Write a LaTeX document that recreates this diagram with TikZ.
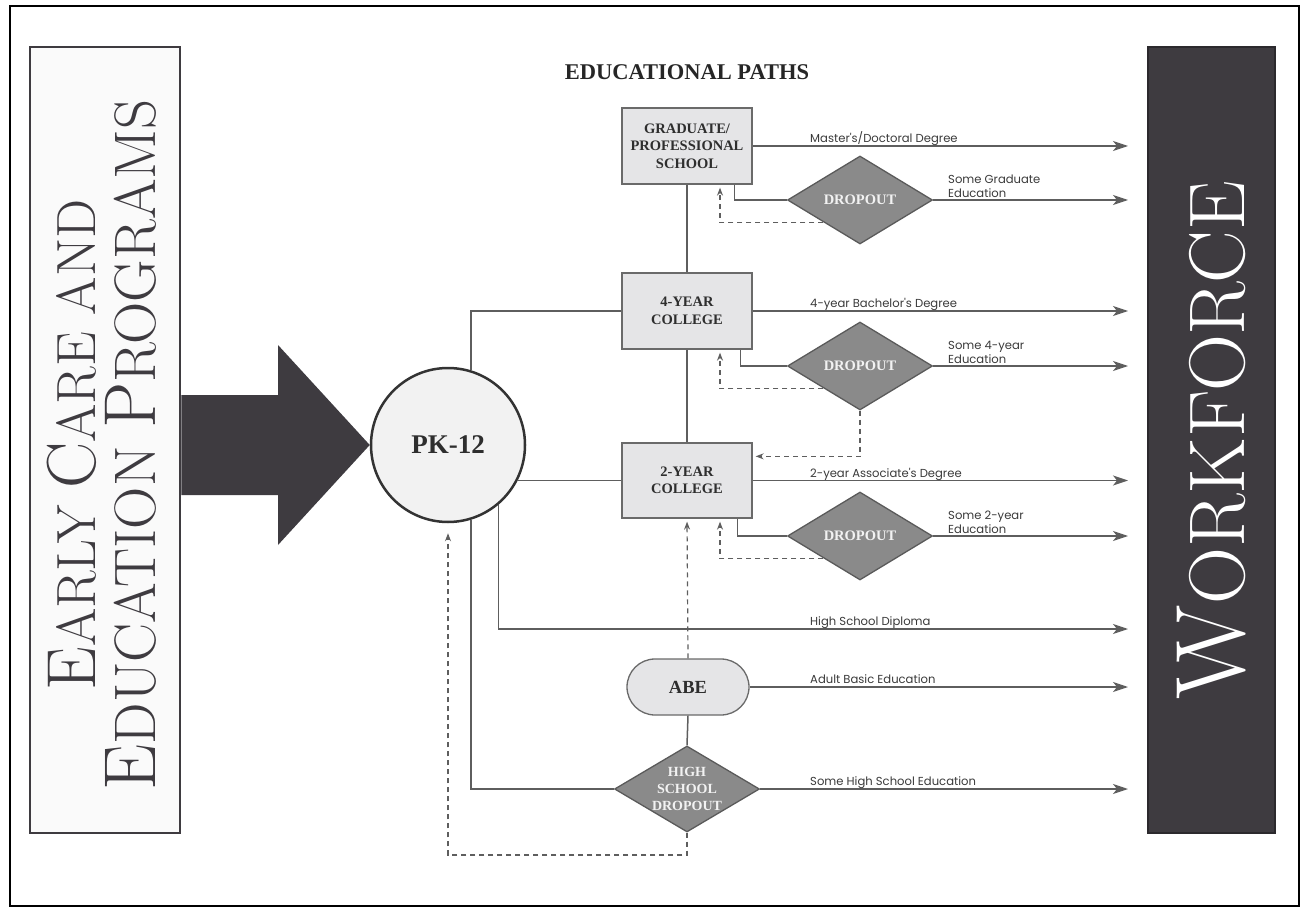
\documentclass[tikz,border=0pt]{standalone}
\usepackage{fontspec}
\usetikzlibrary{arrows.meta,calc,shapes.geometric,shapes.misc}
\newfontfamily\boxfont{Liberation Serif}
\newfontfamily\labfont{Poppins}
\definecolor{linec}{HTML}{5E5E5E}
\definecolor{boxfill}{HTML}{E5E5E7}
\definecolor{boxline}{HTML}{6A6A6A}
\definecolor{diafill}{HTML}{8A8A8A}
\definecolor{dialine}{HTML}{5A5A5A}
\definecolor{darkc}{HTML}{3E3B40}
\definecolor{labc}{HTML}{3A3A3A}
\definecolor{boxtext}{HTML}{2E2E2E}
\tikzset{
  conn/.style={draw=linec, line width=1.5pt},
  arr/.style={conn, -{Stealth[length=15pt,width=10pt,inset=4pt]}},
  dline/.style={draw=linec, line width=1.2pt, dash pattern=on 5pt off 4pt,
     -{Stealth[length=8pt,width=6pt]}, shorten >=3pt},
  pathbox/.style={rectangle, draw=boxline, fill=boxfill, line width=1.3pt,
     minimum width=130pt, minimum height=76pt, inner sep=0pt, align=center,
     text=boxtext, font=\boxfont\bfseries\fontsize{14.5}{17.5}\selectfont},
  dia/.style={diamond, draw=dialine, fill=diafill, line width=1.3pt,
     minimum width=145pt, minimum height=88pt, inner sep=0pt, aspect=1.65,
     align=center, text=white!95!black,
     font=\boxfont\bfseries\fontsize{14.5}{17}\selectfont},
  lab/.style={font=\labfont\fontsize{11.6}{14}\selectfont, text=labc,
     inner sep=0pt, align=left},
}
\begin{document}
\begin{tikzpicture}[x=1pt,y=-1pt]
\useasboundingbox (0,0) rectangle (1301,909);
\draw[black, line width=1.3pt] (10,6) rectangle (1299,906);

% side boxes
\node[rectangle, draw=darkc, fill=white!98!black, line width=2.5pt,
      minimum width=150pt, minimum height=786pt] (ecep) at (105,440) {};
\node[rotate=90, inner sep=0pt, text=darkc] (ecep1) at (71.5,445)
  {\resizebox{491pt}{!}{\fontsize{64}{64}\selectfont E\fontsize{51}{64}\selectfont ARLY \fontsize{64}{64}\selectfont C\fontsize{51}{64}\selectfont ARE AND}};
\node[rotate=90, inner sep=0pt, text=darkc] (ecep2) at (130.5,445)
  {\resizebox{691pt}{!}{\fontsize{64}{64}\selectfont E\fontsize{51}{64}\selectfont DUCATION \fontsize{64}{64}\selectfont P\fontsize{51}{64}\selectfont ROGRAMS}};

\node[rectangle, rotate=90, draw=darkc!70!black, fill=darkc, line width=2pt,
      minimum width=786pt, minimum height=127pt, inner sep=0pt, text=white] (wf) at (1211.5,440)
  {\resizebox{518pt}{!}{\fontsize{80}{80}\selectfont W\fontsize{64}{80}\selectfont ORKFORCE}};

% PK-12
\node[circle, draw=black!80, fill=black!5, line width=2.5pt, minimum size=154pt,
      inner sep=0pt, text=boxtext, font=\boxfont\bfseries\fontsize{27}{30}\selectfont] (pk) at (448,445) {PK-12};

% big arrow
\fill[darkc] (ecep.east |- 0,395) -- (278,395) -- (278,345) -- (pk.west)
   -- (278,545) -- (278,495) -- (ecep.east |- 0,495) -- cycle;

% title
\node[font=\boxfont\bfseries\fontsize{22.5}{26}\selectfont, text=black!85] (title) at (687,72) {EDUCATIONAL PATHS};

% nodes
\node[pathbox] (grad) at (687,146) {GRADUATE/\\PROFESSIONAL\\SCHOOL};
\node[pathbox] (c4) at (687,311) {4-YEAR\\COLLEGE};
\node[pathbox, minimum height=75pt] (c2) at (687,480.5) {2-YEAR\\COLLEGE};
\node[dia] (d1) at (860,200) {DROPOUT};
\node[dia] (d2) at (860,366) {DROPOUT};
\node[dia] (d3) at (860,536) {DROPOUT};
\node[rounded rectangle, draw=boxline, fill=boxfill, line width=1.3pt,
      minimum width=122pt, minimum height=56pt, inner sep=0pt, text=boxtext,
      font=\boxfont\bfseries\fontsize{18.5}{20}\selectfont] (abe) at (688,687) {ABE};
\node[dia, minimum height=86pt, font=\boxfont\bfseries\fontsize{14}{17}\selectfont] (hsd) at (687,789) {HIGH\\SCHOOL\\DROPOUT};

% arrow end coordinates at the workforce side
\coordinate (e1) at (1128,146);
\coordinate (e2) at (1128,200);
\coordinate (e3) at (1128,311);
\coordinate (e4) at (1128,366);
\coordinate (e5) at (1128,480.5);
\coordinate (e6) at (1128,536);
\coordinate (e7) at (1128,629);
\coordinate (e8) at (1128,687);
\coordinate (e9) at (1128,789);
\coordinate (loop) at (687,855);

% solid connectors
\draw[arr] (grad.east) -- (e1);
\draw[conn] ($(grad.south east)+(-18,0)$) |- (d1.west);
\draw[arr] (d1.east) -- (e2);
\draw[conn] (grad.south) -- (c4.north);
\draw[conn] (pk.73.4) |- (c4.west);
\draw[arr] (c4.east) -- (e3);
\draw[conn] ($(c4.south east)+(-12,0)$) |- (d2.west);
\draw[arr] (d2.east) -- (e4);
\draw[conn] (c4.south) -- (c2.north);
\draw[conn] (pk.-27) -- (pk.-27 -| c2.west);
\draw[arr] (c2.east) -- (e5);
\draw[conn] ($(c2.south east)+(-15,0)$) |- (d3.west);
\draw[arr] (d3.east) -- (e6);
\draw[arr] (pk.-50.5) |- (e7);
\draw[arr] (abe.east) -- (e8);
\draw[conn] (abe.south) -- (hsd.north);
\draw[conn] (pk.-73.4) |- (hsd.west);
\draw[arr] (hsd.east) -- (e9);

% dashed return paths
\draw[dline] (d1.south west) -| ($(grad.south)+(33,0)$);
\draw[dline] (d2.south west) -| ($(c4.south)+(33,0)$);
\draw[dline] (d2.south) |- ($(c2.north east)+(0,14)$);
\draw[dline] (d3.south west) -| ($(c2.south)+(33,0)$);
\draw[dline] (abe.north) -- (c2.south);
\draw[dline, shorten >=10pt] (hsd.south) -- (loop) -| (pk.south);

% labels
\node[lab, anchor=base west] (l1) at (810,143) {Master's/Doctoral Degree};
\node[lab, anchor=south west] (l2) at (948,198) {Some Graduate\\Education};
\node[lab, anchor=base west] (l3) at (810,308) {4-year Bachelor's Degree};
\node[lab, anchor=south west] (l4) at (948,364) {Some 4-year\\Education};
\node[lab, anchor=base west] (l5) at (810,477) {2-year Associate's Degree};
\node[lab, anchor=south west] (l6) at (948,534) {Some 2-year\\Education};
\node[lab, anchor=base west] (l7) at (810,625) {High School Diploma};
\node[lab, anchor=base west] (l8) at (810,683) {Adult Basic Education};
\node[lab, anchor=base west] (l9) at (810,785) {Some High School Education};
\end{tikzpicture}
\end{document}
